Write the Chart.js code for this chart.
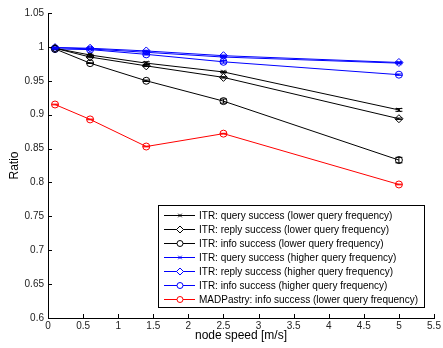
<!DOCTYPE html>
<html lang="en">
<head>
    <meta charset="UTF-8">
    <title>Ratio vs node speed</title>
    <script src="https://cdn.jsdelivr.net/npm/chart.js"></script>
    <style>
        html, body { margin: 0; padding: 0; background: #fff; }
        .chart-container { width: 443px; height: 348px; }
    </style>
</head>
<body>
<div class="chart-container">
    <canvas id="ratioChart"></canvas>
</div>

<script>
    // node speed [m/s]
    const speeds = [0.1, 0.6, 1.4, 2.5, 5];

    const itrQueryLow  = [0.998, 0.988, 0.976, 0.963, 0.907];
    const itrReplyLow  = [0.998, 0.985, 0.972, 0.955, 0.894];
    const itrInfoLow   = [0.997, 0.976, 0.950, 0.920, 0.833];
    const itrQueryHigh = [0.999, 0.997, 0.992, 0.985, 0.976];
    const itrReplyHigh = [0.999, 0.998, 0.994, 0.987, 0.977];
    const itrInfoHigh  = [0.997, 0.996, 0.989, 0.978, 0.959];
    const madInfoLow   = [0.915, 0.893, 0.853, 0.872, 0.797];

    // half height of the error bars
    const errQueryLow  = [0.0005, 0.001, 0.002, 0.001, 0.002];
    const errReplyLow  = [0.0005, 0.001, 0.001, 0.001, 0.001];
    const errInfoLow   = [0.0005, 0.0005, 0.001, 0.003, 0.004];
    const errQueryHigh = [0.0005, 0.0005, 0.001, 0.001, 0.001];
    const errReplyHigh = [0.0005, 0.0005, 0.001, 0.001, 0.001];
    const errInfoHigh  = [0.0005, 0.0005, 0.001, 0.002, 0.001];
    const errMadInfo   = [0.0005, 0.0005, 0.0005, 0.0005, 0.0005];

    const seriesLabels = [
        'ITR: query success (lower query frequency)',
        'ITR: reply success (lower query frequency)',
        'ITR: info success (lower query frequency)',
        'ITR: query success (higher query frequency)',
        'ITR: reply success (higher query frequency)',
        'ITR: info success (higher query frequency)',
        'MADPastry: info success (lower query frequency)'
    ];

    const xTicks = [0, 0.5, 1, 1.5, 2, 2.5, 3, 3.5, 4, 4.5, 5, 5.5];
    const yTicks = [0.6, 0.65, 0.7, 0.75, 0.8, 0.85, 0.9, 0.95, 1, 1.05];

    const FONT = '"Liberation Sans", Arial, sans-serif';

    function makeSeries(label, values, errors, color, style, radius) {
        return {
            label: label,
            data: speeds.map((s, i) => ({x: s, y: values[i]})),
            errors: errors,
            borderColor: color,
            backgroundColor: color,
            borderWidth: 1,
            pointStyle: style,
            pointRadius: radius,
            pointBorderColor: color,
            pointBackgroundColor: 'rgba(0,0,0,0)',
            pointBorderWidth: 1,
            tension: 0
        };
    }

    const datasets = [
        makeSeries(seriesLabels[6], madInfoLow, errMadInfo, '#ff0000', 'circle', 3.5),
        makeSeries(seriesLabels[2], itrInfoLow, errInfoLow, '#000000', 'circle', 3.5),
        makeSeries(seriesLabels[1], itrReplyLow, errReplyLow, '#000000', 'rectRot', 4),
        makeSeries(seriesLabels[0], itrQueryLow, errQueryLow, '#000000', 'crossRot', 3),
        makeSeries(seriesLabels[5], itrInfoHigh, errInfoHigh, '#0000ff', 'circle', 3.5),
        makeSeries(seriesLabels[4], itrReplyHigh, errReplyHigh, '#0000ff', 'rectRot', 4),
        makeSeries(seriesLabels[3], itrQueryHigh, errQueryHigh, '#0000ff', 'crossRot', 3)
    ];

    // vertical error bars with small caps
    const errorBars = {
        id: 'errorBars',
        afterDatasetsDraw(chart) {
            const ctx = chart.ctx;
            const y = chart.scales.y;
            chart.data.datasets.forEach((ds, di) => {
                const meta = chart.getDatasetMeta(di);
                ctx.save();
                ctx.strokeStyle = ds.borderColor;
                ctx.lineWidth = 1;
                meta.data.forEach((pt, i) => {
                    const e = ds.errors[i];
                    const v = ds.data[i].y;
                    const top = y.getPixelForValue(v + e);
                    const bot = y.getPixelForValue(v - e);
                    ctx.beginPath();
                    ctx.moveTo(pt.x, top);
                    ctx.lineTo(pt.x, bot);
                    ctx.moveTo(pt.x - 3.5, top);
                    ctx.lineTo(pt.x + 3.5, top);
                    ctx.moveTo(pt.x - 3.5, bot);
                    ctx.lineTo(pt.x + 3.5, bot);
                    ctx.stroke();
                });
                ctx.restore();
            });
        }
    };

    // inward tick marks like the original plot
    const innerTicks = {
        id: 'innerTicks',
        afterDraw(chart) {
            const ctx = chart.ctx;
            const area = chart.chartArea;
            const xs = chart.scales.x;
            const ys = chart.scales.y;
            ctx.save();
            ctx.strokeStyle = '#000';
            ctx.lineWidth = 1;
            ctx.beginPath();
            xTicks.forEach(t => {
                const px = Math.round(xs.getPixelForValue(t)) + 0.5;
                ctx.moveTo(px, area.bottom);
                ctx.lineTo(px, area.bottom - 4);
            });
            yTicks.forEach(t => {
                const py = Math.round(ys.getPixelForValue(t)) + 0.5;
                ctx.moveTo(area.left, py);
                ctx.lineTo(area.left + 4, py);
            });
            ctx.stroke();
            ctx.restore();
        }
    };

    // legend box in the lower right of the plot
    const boxLegend = {
        id: 'boxLegend',
        afterDraw(chart) {
            const ctx = chart.ctx;
            const left = 158, top = 205, width = 266, height = 102, rowH = 14;
            ctx.save();
            ctx.fillStyle = '#fff';
            ctx.fillRect(left, top, width, height);
            ctx.strokeStyle = '#000';
            ctx.lineWidth = 1;
            ctx.strokeRect(left + 0.5, top + 0.5, width, height);
            ctx.font = '10px ' + FONT;
            ctx.textBaseline = 'middle';
            seriesLabels.forEach((label, i) => {
                const ds = chart.data.datasets.find(d => d.label === label);
                const cy = top + 10 + i * rowH;
                ctx.strokeStyle = ds.borderColor;
                ctx.beginPath();
                ctx.moveTo(left + 6, cy + 0.5);
                ctx.lineTo(left + 37, cy + 0.5);
                ctx.stroke();
                ctx.fillStyle = '#fff';
                Chart.helpers.drawPoint(ctx, {
                    pointStyle: ds.pointStyle,
                    radius: ds.pointRadius - 0.5,
                    borderWidth: 1,
                    rotation: 0
                }, left + 22, cy + 0.5);
                ctx.fillStyle = '#000';
                ctx.fillText(label, left + 41, cy + 1);
            });
            ctx.restore();
        }
    };

    new Chart(document.getElementById('ratioChart'), {
        type: 'line',
        data: { datasets: datasets },
        plugins: [errorBars, innerTicks, boxLegend],
        options: {
            responsive: true,
            maintainAspectRatio: false,
            animation: false,
            layout: { padding: { top: 13, right: 9, left: 0, bottom: 0 } },
            plugins: {
                legend: { display: false },
                tooltip: { enabled: false }
            },
            scales: {
                x: {
                    type: 'linear',
                    min: 0,
                    max: 5.5,
                    afterBuildTicks: s => { s.ticks = xTicks.map(v => ({value: v})); },
                    afterFit: s => { s.height = 30; },
                    grid: { display: false, drawTicks: false },
                    border: { display: true, color: '#000', width: 1 },
                    ticks: {
                        padding: 2,
                        maxRotation: 0,
                        color: '#222',
                        font: { family: FONT, size: 10 },
                        callback: v => String(+v.toFixed(2))
                    },
                    title: {
                        display: true,
                        text: 'node speed [m/s]',
                        color: '#000',
                        font: { family: FONT, size: 12 },
                        padding: { top: 0, bottom: 5 }
                    }
                },
                y: {
                    type: 'linear',
                    min: 0.6,
                    max: 1.05,
                    afterBuildTicks: s => { s.ticks = yTicks.map(v => ({value: v})); },
                    afterFit: s => { s.width = 48; },
                    grid: { display: false, drawTicks: false },
                    border: { display: true, color: '#000', width: 1 },
                    ticks: {
                        padding: 4,
                        color: '#222',
                        font: { family: FONT, size: 10 },
                        callback: v => String(+v.toFixed(2))
                    },
                    title: {
                        display: true,
                        text: 'Ratio',
                        color: '#000',
                        font: { family: FONT, size: 12 },
                        padding: { top: 7, bottom: 0 }
                    }
                }
            }
        }
    });
</script>
</body>
</html>
